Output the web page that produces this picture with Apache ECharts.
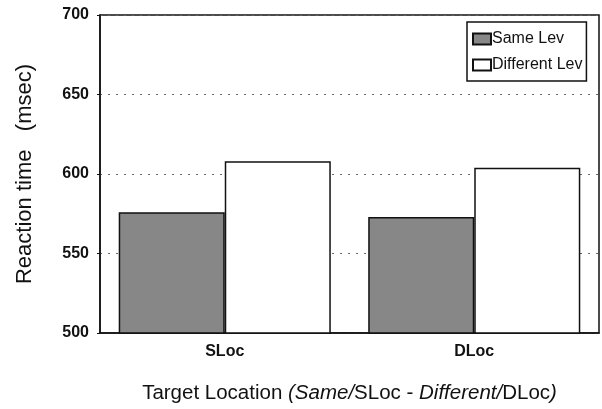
<!DOCTYPE html>
<html><head><meta charset="utf-8">
<script src="https://cdn.jsdelivr.net/npm/echarts@6/dist/echarts.min.js"></script>
<style>html,body{margin:0;padding:0;background:#fff}#c{width:602px;height:409px}</style>
</head><body><div id="c"></div>
<script>
var categories = ['SLoc', 'DLoc'];
var seriesNames = ['Same Lev', 'Different Lev'];
var sameLev = [576, 573];
var differentLev = [608, 604];
var yTicks = [500, 550, 600, 650, 700];

var chart = echarts.init(document.getElementById('c'));
var font = 'Liberation Sans, Arial, sans-serif';
chart.setOption({
  animation: false,
  grid: {left: 100, right: 3, top: 15, bottom: 76, outerBoundsMode: 'none', containLabel: false,
         show: true, borderColor: '#111', borderWidth: 1.5},
  legend: {
    data: seriesNames, orient: 'vertical', left: 467, top: 22,
    padding: [9, 4, 8, 5], itemGap: 10, itemWidth: 18, itemHeight: 11, icon: 'rect',
    borderColor: '#111', borderWidth: 1.5, backgroundColor: '#fff',
    textStyle: {fontFamily: font, fontSize: 16, color: '#111', padding: [0, 0, 0, -4]}
  },
  xAxis: {
    type: 'category', data: categories,
    axisLine: {show: true, lineStyle: {color: '#111', width: 1.5}},
    axisTick: {show: false},
    axisLabel: {fontFamily: font, fontSize: 16, fontWeight: 'bold', color: '#111', margin: 11},
    name: 'x', nameLocation: 'middle', nameGap: 50,
    nameTextStyle: {
      fontFamily: font, fontSize: 20.5, color: '#111',
      rich: {
        n: {fontFamily: font, fontSize: 20.5, color: '#111'},
        i: {fontFamily: font, fontSize: 20.5, color: '#111', fontStyle: 'italic'}
      }
    }
  },
  yAxis: {
    type: 'value', min: yTicks[0], max: yTicks[yTicks.length - 1], interval: 50,
    axisLine: {show: true, lineStyle: {color: '#111', width: 1.5}},
    axisTick: {show: true, length: 3, lineStyle: {color: '#111'}},
    axisLabel: {fontFamily: font, fontSize: 16, fontWeight: 'bold', color: '#111', margin: 11},
    splitLine: {show: true, lineStyle: {color: '#666', type: [2, 6], width: 1.2}},
    name: 'Reaction time   (msec)', nameLocation: 'middle', nameGap: 64,
    nameTextStyle: {fontFamily: font, fontSize: 22, color: '#111'}
  },
  series: [
    {name: seriesNames[0], type: 'bar', data: sameLev, barGap: '0%', barCategoryGap: '15%',
     itemStyle: {color: '#878787', borderColor: '#111', borderWidth: 1.5}},
    {name: seriesNames[1], type: 'bar', data: differentLev, barGap: '0%', barCategoryGap: '15%',
     itemStyle: {color: '#fff', borderColor: '#111', borderWidth: 1.5}}
  ]
});
chart.setOption({xAxis: {name: '{n|Target Location }{i|(Same/}{n|SLoc - }{i|Different/}{n|DLoc}{i|)}'}});
</script></body></html>
